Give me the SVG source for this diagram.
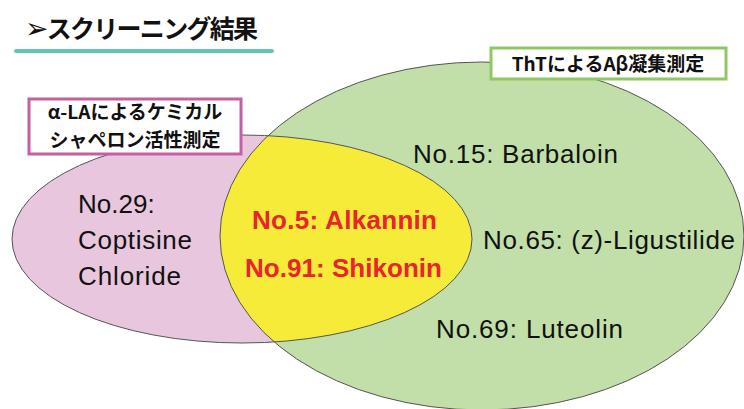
<svg xmlns="http://www.w3.org/2000/svg" width="744" height="409" viewBox="0 0 744 409">
<defs>
<style>
.jp{font-family:"Noto Sans CJK JP","DejaVu Sans",sans-serif;font-weight:bold;fill:#111}
.lt{font-family:"Liberation Sans",Arial,sans-serif;font-size:26px;fill:#111}
.red{font-family:"Liberation Sans",Arial,sans-serif;font-size:26px;font-weight:bold;fill:#e8242c}
.edge{fill:none;stroke:#555;stroke-width:1}
</style>
<clipPath id="greenClip"><ellipse cx="482" cy="236" rx="262" ry="174"/></clipPath>
</defs>
<rect width="744" height="409" fill="#fff"/>
<g id="title">
<text class="jp" x="25" y="38" font-size="25" textLength="233"><tspan font-family="DejaVu Sans" font-size="28">➢</tspan>スクリーニング結果</text>
<line x1="16" y1="51" x2="272" y2="51" stroke="#62c4b9" stroke-width="4" stroke-linecap="round"/>
</g>
<g id="set-chaperone">
<ellipse cx="242" cy="239" rx="230" ry="104" fill="#e8c7de"/>
</g>
<g id="set-tht">
<ellipse cx="482" cy="236" rx="262" ry="174" fill="#c2dfa9"/>
</g>
<g id="intersection">
<ellipse cx="242" cy="239" rx="230" ry="104" fill="#f5eb38" clip-path="url(#greenClip)"/>
</g>
<g id="outlines">
<ellipse class="edge" cx="242" cy="239" rx="230" ry="104"/>
<ellipse class="edge" cx="482" cy="236" rx="262" ry="174"/>
</g>
<g id="label-chaperone">
<rect x="29" y="99" width="212" height="55" fill="#fff" stroke="#c25fa5" stroke-width="3"/>
<text class="jp" x="135" y="119" font-size="19" text-anchor="middle">α-LAによるケミカル</text>
<text class="jp" x="135" y="147" font-size="19" text-anchor="middle">シャペロン活性測定</text>
</g>
<g id="label-tht">
<rect x="491" y="48" width="235" height="31" fill="#fff" stroke="#8dc862" stroke-width="3"/>
<text class="jp" x="608" y="71" font-size="19" text-anchor="middle">ThTによるAβ凝集測定</text>
</g>
<g id="items-chaperone">
<text class="lt" x="78" y="213">No.29:</text>
<text class="lt" x="78" y="249" textLength="114">Coptisine</text>
<text class="lt" x="78" y="285" textLength="103">Chloride</text>
</g>
<g id="items-both">
<text class="red" x="252" y="229" textLength="185">No.5: Alkannin</text>
<text class="red" x="245" y="277" textLength="197">No.91: Shikonin</text>
</g>
<g id="items-tht">
<text class="lt" x="413" y="163" textLength="205">No.15: Barbaloin</text>
<text class="lt" x="483" y="249" textLength="252">No.65: (z)-Ligustilide</text>
<text class="lt" x="436" y="338" textLength="187">No.69: Luteolin</text>
</g>
</svg>
